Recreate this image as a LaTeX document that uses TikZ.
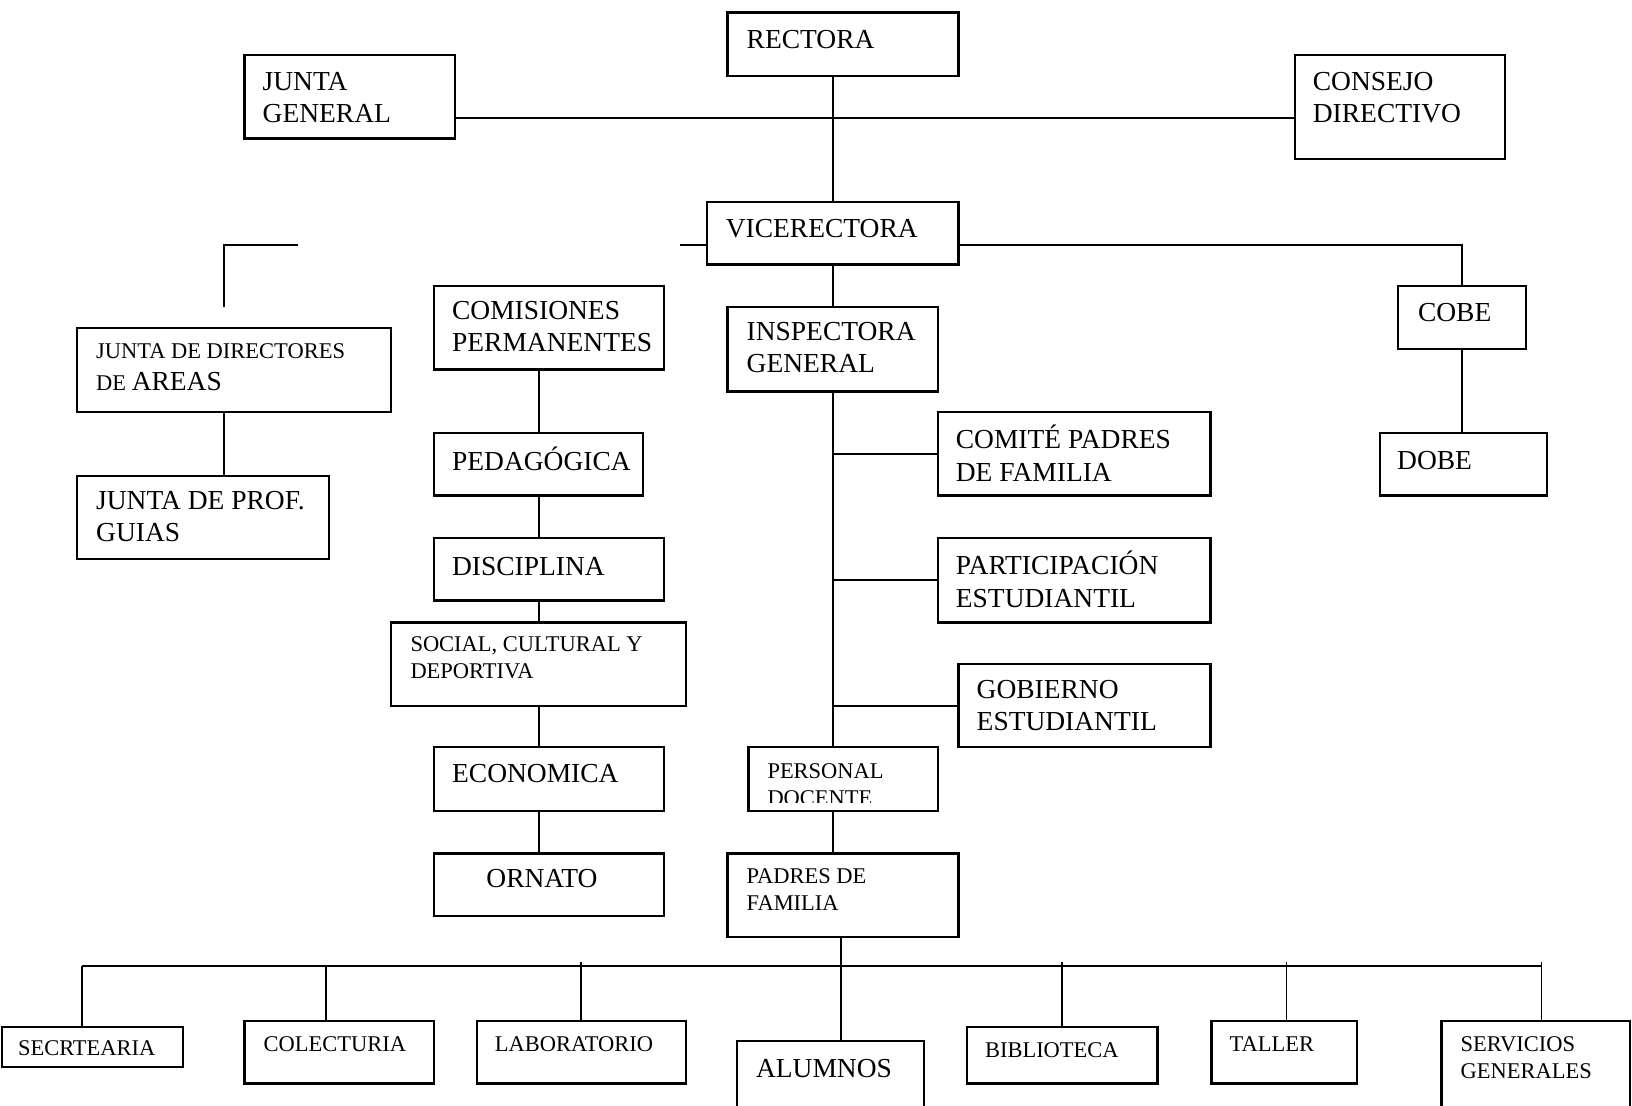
\documentclass[tikz,border=0pt]{standalone}
\usepackage{fontspec}
\setmainfont{Liberation Serif}
\usetikzlibrary{fit}
\newcommand\orgbox[5]{\node[box, fit={(#2,#3) (#4,#5)}] (#1) {};}
\begin{document}
\begin{tikzpicture}[x=0.5pt,y=-0.5pt,
  box/.style={draw, line width=1.1pt, inner sep=0pt},
  big/.style={anchor=west, inner sep=0pt, align=left, font=\fontsize{13.2}{15.5}\selectfont},
  small/.style={anchor=west, inner sep=0pt, align=left, font=\fontsize{10.8}{13}\selectfont},
  conn/.style={line width=0.9pt}]
\useasboundingbox (0,0) rectangle (1568,1062);
% boxes
\orgbox{rec}{699}{12}{921}{73}
\orgbox{jg}{235}{53}{437}{133}
\orgbox{cd}{1244}{53}{1446}{153}
\orgbox{vic}{679}{194}{921}{254}
\orgbox{cobe}{1343}{275}{1466}{335}
\orgbox{dobe}{1326}{416}{1486}{476}
\orgbox{insp}{699}{295}{901}{376}
\orgbox{cpf}{901}{396}{1163}{476}
\orgbox{pe}{901}{517}{1163}{598}
\orgbox{ge}{921}{638}{1163}{718}
\orgbox{pd}{719}{718}{901}{779}
\orgbox{pf}{699}{820}{921}{900}
\orgbox{com}{417}{275}{638}{355}
\orgbox{ped}{417}{416}{618}{476}
\orgbox{dis}{417}{517}{638}{577}
\orgbox{soc}{376}{598}{659}{678}
\orgbox{eco}{417}{718}{638}{779}
\orgbox{orn}{417}{820}{638}{880}
\orgbox{jda}{74}{315}{376}{396}
\orgbox{jpg}{74}{457}{316}{537}
\orgbox{sec}{2}{987}{176}{1025}
\orgbox{col}{235}{981}{417}{1041}
\orgbox{lab}{458}{981}{659}{1041}
\orgbox{alu}{708}{1000}{888}{1068}
\orgbox{bib}{929}{987}{1112}{1041}
\orgbox{tal}{1164}{981}{1304}{1041}
\orgbox{ser}{1385}{981}{1566}{1068}
% texts
\node[big] (rec-t) at (717,38) {RECTORA};
\node[big] (jg-t) at (252,93.5) {JUNTA\\GENERAL};
\node[big] (cd-t) at (1261,93.5) {CONSEJO\\DIRECTIVO};
\node[big] (vic-t) at (697,220) {VICERECTORA};
\node[big] (cobe-t) at (1362,300) {COBE};
\node[big] (dobe-t) at (1342,442) {DOBE};
\node[big] (insp-t) at (717,334) {INSPECTORA\\GENERAL};
\node[big] (cpf-t) at (918,435.5) {COMITÉ PADRES\\DE FAMILIA};
\node[big] (pe-t) at (918,556.5) {PARTICIPACIÓN\\ESTUDIANTIL};
\node[big] (ge-t) at (938,678) {GOBIERNO\\ESTUDIANTIL};
\begin{scope}
\clip (719,718) rectangle (901,771);
\node[small] (pd-t) at (737,753.5) {PERSONAL\\DOCENTE};
\end{scope}
\node[small] (pf-t) at (717,854.5) {PADRES DE\\FAMILIA};
\node[big] (com-t) at (434,314) {COMISIONES\\PERMANENTES};
\node[big] (ped-t) at (434,441) {PEDAGÓGICA};
\node[big] (dis-t) at (434,544) {DISCIPLINA};
\node[small] (soc-t) at (394,632) {SOCIAL, CULTURAL Y\\DEPORTIVA};
\node[big] (eco-t) at (434,743) {ECONOMICA};
\node[big] (orn-t) at (467,844) {ORNATO};
\node[anchor=base west, inner sep=0pt, align=left, font=\fontsize{10.8}{15.5}\selectfont] (jda-t) at (92,375) {JUNTA DE DIRECTORES\\DE {\fontsize{13.2}{15.5}\selectfont AREAS}};
\node[big] (jpg-t) at (92,496.5) {JUNTA DE PROF.\\GUIAS};
\node[big] (alu-t) at (726,1027) {ALUMNOS};
\node[small] (sec-t) at (17,1007) {SECRTEARIA};
\node[small] (col-t) at (253,1003) {COLECTURIA};
\node[small] (lab-t) at (475,1003) {LABORATORIO};
\node[small] (bib-t) at (946,1009) {BIBLIOTECA};
\node[small] (tal-t) at (1181,1003) {TALLER};
\node[small] (ser-t) at (1403,1016) {SERVICIOS\\GENERALES};
% connectors
\draw[conn] (jg.east |- 0,113) -- (cd.west |- 0,113);
\draw[conn] (vic.north |- rec.south) -- (vic.north);
\draw[conn] (vic.east |- 0,235) -- (cobe.north |- 0,235) -- (cobe.north);
\coordinate (stub) at (653,235);
\draw[conn] (vic.west |- 0,235) -- (stub);
\coordinate (f1) at (215,295);
\coordinate (f2) at (215,235);
\coordinate (f3) at (286,235);
\draw[conn] (f1) -- (f2) -- (f3);
\draw[conn] (cobe.south) -- (cobe.south |- dobe.north);
\draw[conn] (vic.south) -- (insp.north);
\draw[conn] (insp.south) -- (insp.south |- pd.north);
\draw[conn] (insp.south |- cpf.west) -- (cpf.west);
\draw[conn] (insp.south |- pe.west) -- (pe.west);
\draw[conn] (insp.south |- ge.west) -- (ge.west);
\draw[conn] (insp.south |- pd.south) -- (insp.south |- pf.north);
\draw[conn] (pf.south -| 808,0) -- (alu.north -| 808,0);
\coordinate (busL) at (79,928);
\coordinate (busR) at (1481,928);
\draw[conn] (busL) -- (busR);
\draw[conn] (busL) -- (sec.north -| busL);
\draw[conn] (313,928) -- (col.north -| 313,0);
\draw[conn] (lab.north |- 0,924) -- (lab.north);
\draw[conn] (bib.north |- 0,924) -- (bib.north);
\draw[conn] (1236,924) -- (tal.north -| 1236,0);
\draw[conn] (busR |- 0,924) -- (ser.north -| busR);
\draw[conn] (ped.north |- com.south) -- (ped.north);
\draw[conn] (ped.south) -- (ped.south |- dis.north);
\draw[conn] (ped.south |- dis.south) -- (soc.north);
\draw[conn] (soc.south) -- (soc.south |- eco.north);
\draw[conn] (soc.south |- eco.south) -- (soc.south |- orn.north);
\draw[conn] (jda.south -| 215,0) -- (jpg.north -| 215,0);
\end{tikzpicture}
\end{document}
